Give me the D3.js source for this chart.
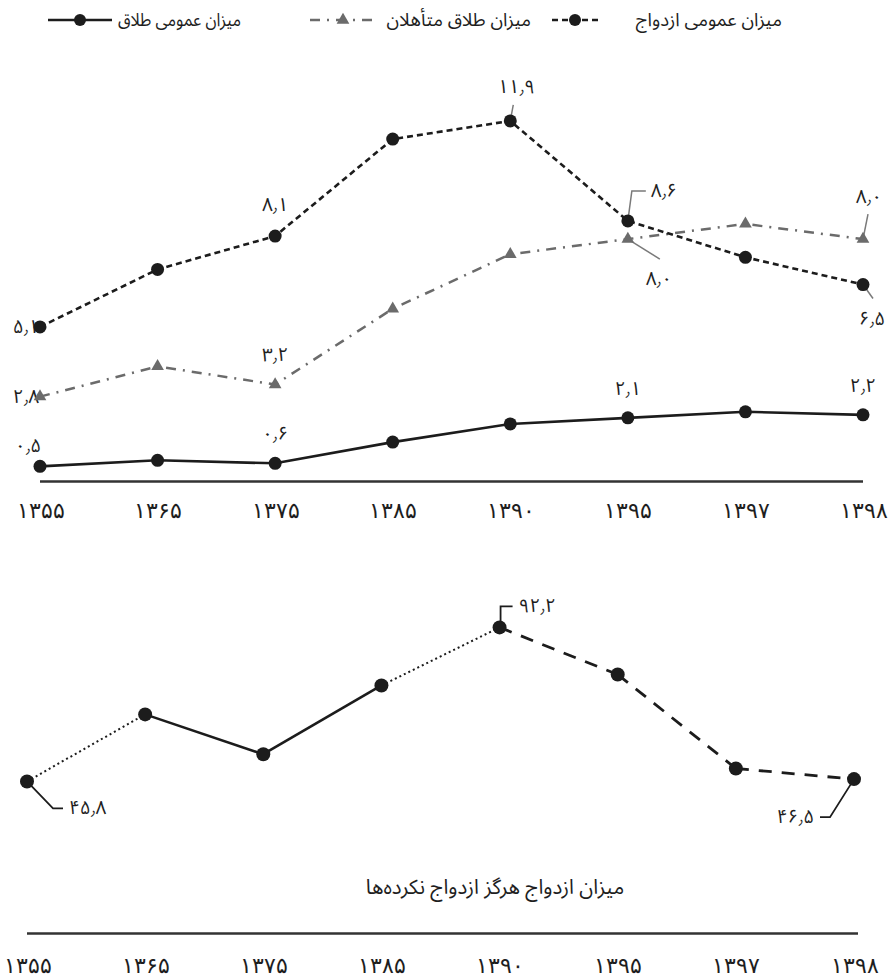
<!DOCTYPE html>
<html>
<head>
<meta charset="utf-8">
<script src="https://cdn.jsdelivr.net/npm/d3@7"></script>
<style>
  html, body { margin: 0; padding: 0; background: #fff; }
  svg { display: block; font-family: "Noto Sans Arabic", "Vazirmatn", "DejaVu Sans", sans-serif; }
</style>
</head>
<body>
<svg id="chart" width="888" height="978"></svg>
<script>
// ---------- DATA ----------
const years = ["۱۳۵۵", "۱۳۶۵", "۱۳۷۵", "۱۳۸۵", "۱۳۹۰", "۱۳۹۵", "۱۳۹۷", "۱۳۹۸"];
const marriageRate = [5.1, 7.0, 8.1, 11.3, 11.9, 8.6, 7.4, 6.5];          // میزان عمومی ازدواج
const marriedDivorceRate = [2.8, 3.8, 3.2, 5.7, 7.5, 8.0, 8.5, 8.0];     // میزان طلاق متأهلان
const divorceRate = [0.5, 0.7, 0.6, 1.3, 1.9, 2.1, 2.3, 2.2];            // میزان عمومی طلاق
const neverMarriedRate = [45.8, 66.0, 54.0, 74.7, 92.2, 78.0, 49.7, 46.5]; // میزان ازدواج هرگز ازدواج نکرده‌ها
const legendLabels = ["میزان عمومی ازدواج", "میزان طلاق متأهلان", "میزان عمومی طلاق"];
const bottomTitle = "میزان ازدواج هرگز ازدواج نکرده‌ها";

// ---------- HELPERS ----------
const faDigits = "۰۱۲۳۴۵۶۷۸۹";
const fa = v => v.toFixed(1).replace(/\d/g, d => faDigits[+d]).replace(".", "٫");

const svg = d3.select("#chart");
const DARK = "#1c1c1c", GREY = "#6b6b6b", LEADER = "#7a7a7a", TXT = "#1e1e1e";

// ---------- TOP CHART ----------
const x1 = d3.scalePoint().domain(years).range([40, 863]);
const y1 = d3.scaleLinear().domain([0, 12]).range([481.5, 481.5 - 12 * 30.3]);

const topG = svg.append("g");

// x axis
const ax1 = topG.append("g").attr("transform", "translate(0,481.5)")
  .call(d3.axisBottom(x1).tickSize(0).tickPadding(21));
ax1.select(".domain").attr("d", `M${x1.range()[0]},0H${x1.range()[1]}`)
  .attr("stroke", "#333").attr("stroke-width", 2.5);
ax1.selectAll("text").attr("font-size", 22).attr("fill", TXT).attr("font-family", null);

const line1 = d3.line().x((d, i) => x1(years[i])).y(d => y1(d));

// annotations first (so markers cover them where they overlap)
const ann = topG.append("g").attr("font-size", 19).attr("fill", TXT);
function lbl(g, x, y, t, anchor) {
  return g.append("text").attr("x", x).attr("y", y).attr("text-anchor", anchor || "middle")
    .attr("dominant-baseline", "central").text(t);
}
function leader(g, pts, color, w) {
  g.append("path").attr("d", d3.line()(pts)).attr("fill", "none")
    .attr("stroke", color).attr("stroke-width", w);
}
const P = (arr, i) => [x1(years[i]), y1(arr[i])];

// marriage labels
{ const [px, py] = P(marriageRate, 0); lbl(ann, px - 14, py, fa(marriageRate[0])); }
{ const [px, py] = P(marriageRate, 2); lbl(ann, px, py - 31, fa(marriageRate[2])); }
{ const [px, py] = P(marriageRate, 4); leader(ann, [[px, py], [px + 3, py - 16]], LEADER, 1.5); lbl(ann, px + 6, py - 34, fa(marriageRate[4])); }
{ const [px, py] = P(marriageRate, 5); leader(ann, [[px, py], [px + 4, py - 30], [px + 18, py - 30]], LEADER, 1.5); lbl(ann, px + 23, py - 30, fa(marriageRate[5]), "start"); }
{ const [px, py] = P(marriageRate, 7); leader(ann, [[px, py], [px + 10, py + 14]], LEADER, 1.5); lbl(ann, px + 9, py + 34, fa(marriageRate[7])); }
// married divorce labels
{ const [px, py] = P(marriedDivorceRate, 0); lbl(ann, px - 14, py, fa(marriedDivorceRate[0])); }
{ const [px, py] = P(marriedDivorceRate, 2); lbl(ann, px, py - 30, fa(marriedDivorceRate[2])); }
{ const [px, py] = P(marriedDivorceRate, 5); leader(ann, [[px, py], [px + 32, py + 20]], LEADER, 1.5); lbl(ann, px + 31, py + 40, fa(marriedDivorceRate[5])); }
{ const [px, py] = P(marriedDivorceRate, 7); leader(ann, [[px, py], [px + 5, py - 25]], LEADER, 1.5); lbl(ann, px + 6, py - 42, fa(marriedDivorceRate[7])); }
// general divorce labels
[0, 2, 5, 7].forEach(i => {
  const [px, py] = P(divorceRate, i);
  lbl(ann, px - (i === 0 ? 12 : 0), py - (i === 0 ? 20 : 29), fa(divorceRate[i]));
});

// lines
topG.append("path").datum(divorceRate).attr("d", line1).attr("fill", "none")
  .attr("stroke", DARK).attr("stroke-width", 2.6);
topG.append("path").datum(marriedDivorceRate).attr("d", line1).attr("fill", "none")
  .attr("stroke", GREY).attr("stroke-width", 2.5).attr("stroke-dasharray", "10,7,2,7");
topG.append("path").datum(marriageRate).attr("d", line1).attr("fill", "none")
  .attr("stroke", DARK).attr("stroke-width", 2.6).attr("stroke-dasharray", "6,4");

// markers
topG.append("g").selectAll("circle").data(divorceRate).join("circle")
  .attr("cx", (d, i) => x1(years[i])).attr("cy", d => y1(d)).attr("r", 6.5).attr("fill", DARK);
topG.append("g").selectAll("circle").data(marriageRate).join("circle")
  .attr("cx", (d, i) => x1(years[i])).attr("cy", d => y1(d)).attr("r", 6.5).attr("fill", DARK);
const tri = d3.symbol().type(d3.symbolTriangle).size(70);
topG.append("g").selectAll("path").data(marriedDivorceRate).join("path")
  .attr("d", tri).attr("fill", GREY)
  .attr("transform", (d, i) => `translate(${x1(years[i])},${y1(d)})`);

// ---------- LEGEND ----------
const lg = svg.append("g").attr("font-size", 18.5).attr("fill", TXT);
const LY = 20;
// item 1: marriage (rightmost)
lbl(lg, 782, LY, legendLabels[0], "end");
lg.append("line").attr("x1", 552).attr("x2", 600).attr("y1", LY).attr("y2", LY)
  .attr("stroke", DARK).attr("stroke-width", 2.6).attr("stroke-dasharray", "6,4");
lg.append("circle").attr("cx", 575).attr("cy", LY).attr("r", 6).attr("fill", DARK);
// item 2: married divorce
lbl(lg, 531, LY, legendLabels[1], "end");
lg.append("line").attr("x1", 310).attr("x2", 378).attr("y1", LY).attr("y2", LY)
  .attr("stroke", GREY).attr("stroke-width", 2.5).attr("stroke-dasharray", "10,7,2,7");
lg.append("path").attr("d", tri).attr("fill", GREY).attr("transform", `translate(343,${LY})`);
// item 3: general divorce
lg.append("text").attr("x", 118).attr("y", LY).attr("dominant-baseline", "central")
  .attr("textLength", 123).attr("lengthAdjust", "spacingAndGlyphs").text(legendLabels[2]);
lg.append("line").attr("x1", 48).attr("x2", 112).attr("y1", LY).attr("y2", LY)
  .attr("stroke", DARK).attr("stroke-width", 2.6);
lg.append("circle").attr("cx", 80).attr("cy", LY).attr("r", 6).attr("fill", DARK);

// ---------- BOTTOM CHART ----------
const x2 = d3.scalePoint().domain(years).range([27, 854]);
const y2 = d3.scaleLinear().domain([0, 100]).range([933.5, 933.5 - 332]);
const bot = svg.append("g");

const ax2 = bot.append("g").attr("transform", "translate(0,933.5)")
  .call(d3.axisBottom(x2).tickSize(0).tickPadding(24));
ax2.select(".domain").attr("d", `M${x2.range()[0]},0H${x2.range()[1] + 4}`)
  .attr("stroke", "#333").attr("stroke-width", 2.5);
ax2.selectAll("text").attr("font-size", 22).attr("fill", TXT).attr("font-family", null);

bot.append("text").attr("x", 495).attr("y", 887).attr("text-anchor", "middle")
  .attr("dominant-baseline", "central").attr("font-size", 20.5).attr("fill", TXT)
  .text(bottomTitle);

// segments with differing styles
const segStyle = i => (i === 0 || i === 3) ? "dotted" : (i >= 4 ? "dashed" : "solid");
const Q = i => [x2(years[i]), y2(neverMarriedRate[i])];
for (let i = 0; i < neverMarriedRate.length - 1; i++) {
  const s = segStyle(i);
  const p = bot.append("path").attr("d", d3.line()([Q(i), Q(i + 1)])).attr("fill", "none")
    .attr("stroke", DARK);
  if (s === "dotted") p.attr("stroke-width", 2).attr("stroke-dasharray", "2,3");
  else if (s === "dashed") p.attr("stroke-width", 2.8).attr("stroke-dasharray", "13,10");
  else p.attr("stroke-width", 2.6);
}

const bann = bot.append("g").attr("font-size", 19).attr("fill", TXT);
{ const [px, py] = Q(0); leader(bann, [[px, py], [px + 26, py + 27], [px + 36, py + 27]], DARK, 1.8); lbl(bann, px + 42, py + 27, fa(neverMarriedRate[0]), "start"); }
{ const [px, py] = Q(4); leader(bann, [[px + 1, py], [px + 1, py - 21], [px + 13, py - 21]], DARK, 1.8); lbl(bann, px + 19, py - 21, fa(neverMarriedRate[4]), "start"); }
{ const [px, py] = Q(7); leader(bann, [[px, py], [px - 24, py + 38], [px - 34, py + 38]], DARK, 1.8); lbl(bann, px - 40, py + 38, fa(neverMarriedRate[7]), "end"); }

bot.append("g").selectAll("circle").data(neverMarriedRate).join("circle")
  .attr("cx", (d, i) => x2(years[i])).attr("cy", d => y2(d)).attr("r", 7).attr("fill", DARK);
</script>
</body>
</html>
